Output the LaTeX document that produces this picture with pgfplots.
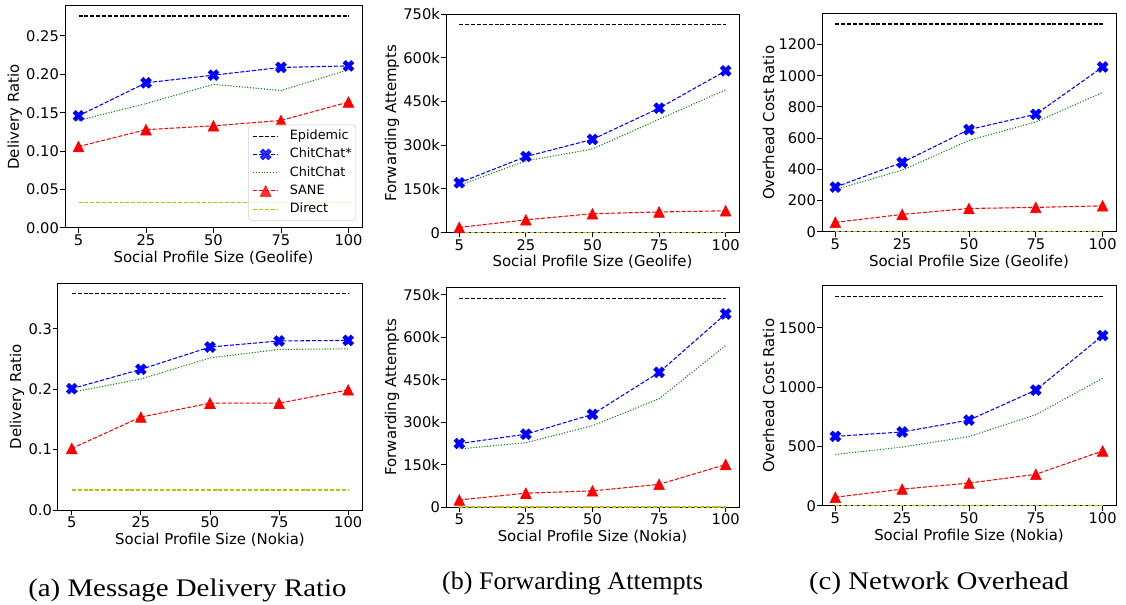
\documentclass[border=0pt]{standalone}
\usepackage{pgfplots}
\pgfplotsset{compat=1.18}
\usepackage{fontspec}
\setmainfont{DejaVu Sans}
\newfontfamily\capfont{Liberation Serif}

\definecolor{mplblue}{rgb}{0,0,1}
\definecolor{mplgreen}{rgb}{0,0.5,0}
\definecolor{mplred}{rgb}{1,0,0}
\definecolor{mplyellow}{rgb}{0.75,0.75,0}

\pgfdeclareplotmark{Xfill}{%
  \pgftransformrotate{45}%
  \pgfpathmoveto{\pgfpoint{-0.3333\pgfplotmarksize}{-\pgfplotmarksize}}%
  \pgfpathlineto{\pgfpoint{0.3333\pgfplotmarksize}{-\pgfplotmarksize}}%
  \pgfpathlineto{\pgfpoint{0.3333\pgfplotmarksize}{-0.3333\pgfplotmarksize}}%
  \pgfpathlineto{\pgfpoint{\pgfplotmarksize}{-0.3333\pgfplotmarksize}}%
  \pgfpathlineto{\pgfpoint{\pgfplotmarksize}{0.3333\pgfplotmarksize}}%
  \pgfpathlineto{\pgfpoint{0.3333\pgfplotmarksize}{0.3333\pgfplotmarksize}}%
  \pgfpathlineto{\pgfpoint{0.3333\pgfplotmarksize}{\pgfplotmarksize}}%
  \pgfpathlineto{\pgfpoint{-0.3333\pgfplotmarksize}{\pgfplotmarksize}}%
  \pgfpathlineto{\pgfpoint{-0.3333\pgfplotmarksize}{0.3333\pgfplotmarksize}}%
  \pgfpathlineto{\pgfpoint{-\pgfplotmarksize}{0.3333\pgfplotmarksize}}%
  \pgfpathlineto{\pgfpoint{-\pgfplotmarksize}{-0.3333\pgfplotmarksize}}%
  \pgfpathlineto{\pgfpoint{-0.3333\pgfplotmarksize}{-0.3333\pgfplotmarksize}}%
  \pgfpathclose
  \pgfusepathqfillstroke
}
\pgfdeclareplotmark{trifill}{%
  \pgfpathmoveto{\pgfpoint{0pt}{\pgfplotmarksize}}%
  \pgfpathlineto{\pgfpoint{-\pgfplotmarksize}{-\pgfplotmarksize}}%
  \pgfpathlineto{\pgfpoint{\pgfplotmarksize}{-\pgfplotmarksize}}%
  \pgfpathclose
  \pgfusepathqfillstroke
}

\pgfplotsset{
  base/.style={
    scale only axis,
    xmin=-0.2, xmax=4.2, ymin=0,
    xtick={0,1,2,3,4}, xticklabels={5,25,50,75,100},
    tick align=outside, tick pos=left,
    major tick length=3.6pt,
    axis line style={line width=0.75pt},
    every tick/.style={black, line width=0.75pt},
    tick label style={font=\fontsize{11}{13}\selectfont},
    yticklabel style={inner sep=0.8pt},
    xticklabel style={inner sep=1.2pt},
    label style={font=\fontsize{11.2}{13}\selectfont},
    ylabel style={inner sep=2.2pt},
    xlabel style={inner sep=2.5pt},
    /pgf/number format/assume math mode=true,
    scaled y ticks=false,
  },
  epi/.style={black, line width=0.8pt, dash pattern=on 3pt off 1.4pt},
  ccs/.style={mplblue, line width=0.8pt, dash pattern=on 3pt off 1.4pt, mark=Xfill, mark size=4.3pt, mark options={solid, fill=mplblue, line width=0.4pt}},
  cc/.style={mplgreen, line width=0.8pt, dash pattern=on 0.8pt off 1.3pt},
  sane/.style={mplred, line width=0.8pt, dash pattern=on 3pt off 1.4pt, mark=trifill, mark size=4pt, mark options={solid, fill=mplred, line width=0.4pt}},
  dir/.style={mplyellow, line width=0.9pt, dash pattern=on 3pt off 1.4pt},
}

\begin{document}
\begin{tikzpicture}
\useasboundingbox (0,0) rectangle (844.5pt,453pt);

% ---------- (a) top: Geolife delivery ratio
\begin{axis}[base, at={(48.75pt,282pt)}, width=222.75pt, height=166.5pt,
  ymax=0.289,
  ytick={0,0.05,0.1,0.15,0.2,0.25},
  yticklabels={0.00,0.05,0.10,0.15,0.20,0.25},
  xlabel={Social Profile Size (Geolife)}, ylabel={Delivery Ratio},
  legend style={at={(0.98,0.033)}, anchor=south east, draw=black!18, rounded corners=2pt,
    fill=white, fill opacity=0.8, text opacity=1, font=\fontsize{9.6}{11}\selectfont,
    cells={anchor=west}, nodes={inner sep=0pt, text height=7.2pt, text depth=2pt},
    row sep=4.5pt, column sep=8.25pt, inner xsep=3pt, inner ysep=3.8pt},
  legend image code/.code={\draw[mark repeat=2, mark phase=2] plot coordinates {(0cm,0cm) (0.33cm,0cm) (0.66cm,0cm)};},
]
\addplot[epi] coordinates {(0,0.276) (1,0.276) (2,0.276) (3,0.276) (4,0.276)};
\addplot[ccs] coordinates {(0,0.146) (1,0.189) (2,0.199) (3,0.209) (4,0.211)};
\addplot[cc] coordinates {(0,0.140) (1,0.162) (2,0.187) (3,0.179) (4,0.206)};
\addplot[sane] coordinates {(0,0.106) (1,0.128) (2,0.133) (3,0.140) (4,0.164)};
\addplot[dir] coordinates {(0,0.033) (1,0.033) (2,0.033) (3,0.033) (4,0.033)};
\legend{Epidemic,ChitChat*,ChitChat,SANE,Direct}
\end{axis}

% ---------- (b) top: Geolife forwarding attempts
\begin{axis}[base, at={(334.5pt,278.5pt)}, width=219.75pt, height=164pt,
  ymax=750000,
  ytick={0,150000,300000,450000,600000,750000},
  yticklabels={0,150k,300k,450k,600k,750k},
  xlabel={Social Profile Size (Geolife)}, ylabel={Forwarding Attempts},
]
\addplot[epi] coordinates {(0,713000) (1,713000) (2,713000) (3,713000) (4,713000)};
\addplot[ccs] coordinates {(0,171000) (1,261000) (2,320000) (3,427000) (4,555000)};
\addplot[cc] coordinates {(0,163000) (1,246000) (2,287000) (3,389000) (4,490000)};
\addplot[sane] coordinates {(0,18000) (1,44000) (2,65000) (3,71000) (4,75000)};
\addplot[dir] coordinates {(0,1000) (1,1000) (2,1000) (3,1000) (4,1000)};
\end{axis}

% ---------- (c) top: Geolife overhead
\begin{axis}[base, at={(616.5pt,279.2pt)}, width=220.5pt, height=163.3pt,
  ymax=1396,
  ytick={0,200,400,600,800,1000,1200},
  yticklabels={0,200,400,600,800,1000,1200},
  xlabel={Social Profile Size (Geolife)}, ylabel={Overhead Cost Ratio},
]
\addplot[epi] coordinates {(0,1332) (1,1332) (2,1332) (3,1332) (4,1332)};
\addplot[ccs] coordinates {(0,286) (1,444) (2,655) (3,753) (4,1056)};
\addplot[cc] coordinates {(0,271) (1,395) (2,585) (3,704) (4,893)};
\addplot[sane] coordinates {(0,60) (1,111) (2,149) (3,156) (4,166)};
\addplot[dir] coordinates {(0,2) (1,2) (2,2) (3,2) (4,2)};
\end{axis}

% ---------- (a) bottom: Nokia delivery ratio
\begin{axis}[base, at={(43.5pt,70.5pt)}, width=228pt, height=170pt,
  ymax=0.3755,
  ytick={0,0.1,0.2,0.3},
  yticklabels={0.0,0.1,0.2,0.3},
  xlabel={Social Profile Size (Nokia)}, ylabel={Delivery Ratio},
]
\addplot[epi] coordinates {(0,0.359) (1,0.359) (2,0.359) (3,0.359) (4,0.359)};
\addplot[ccs] coordinates {(0,0.201) (1,0.233) (2,0.270) (3,0.280) (4,0.281)};
\addplot[cc] coordinates {(0,0.195) (1,0.217) (2,0.252) (3,0.266) (4,0.267)};
\addplot[sane] coordinates {(0,0.102) (1,0.154) (2,0.177) (3,0.177) (4,0.199)};
\addplot[dir] coordinates {(0,0.033) (1,0.033) (2,0.033) (3,0.033) (4,0.033)};
\end{axis}

% ---------- (b) bottom: Nokia forwarding attempts
\begin{axis}[base, at={(334.5pt,72.5pt)}, width=219.75pt, height=165pt,
  ymax=776000,
  ytick={0,150000,300000,450000,600000,750000},
  yticklabels={0,150k,300k,450k,600k,750k},
  xlabel={Social Profile Size (Nokia)}, ylabel={Forwarding Attempts},
]
\addplot[epi] coordinates {(0,738000) (1,738000) (2,738000) (3,738000) (4,738000)};
\addplot[ccs] coordinates {(0,225000) (1,258000) (2,328000) (3,476000) (4,682000)};
\addplot[cc] coordinates {(0,206000) (1,228000) (2,288000) (3,383000) (4,571000)};
\addplot[sane] coordinates {(0,26000) (1,50000) (2,58000) (3,81000) (4,151000)};
\addplot[dir] coordinates {(0,1000) (1,1000) (2,1000) (3,1000) (4,1000)};
\end{axis}

% ---------- (c) bottom: Nokia overhead
\begin{axis}[base, at={(616.5pt,73.7pt)}, width=220.5pt, height=164.8pt,
  ymax=1853,
  ytick={0,500,1000,1500},
  yticklabels={0,500,1000,1500},
  xlabel={Social Profile Size (Nokia)}, ylabel={Overhead Cost Ratio},
]
\addplot[epi] coordinates {(0,1764) (1,1764) (2,1764) (3,1764) (4,1764)};
\addplot[ccs] coordinates {(0,585) (1,622) (2,722) (3,975) (4,1435)};
\addplot[cc] coordinates {(0,432) (1,495) (2,583) (3,768) (4,1075)};
\addplot[sane] coordinates {(0,72) (1,140) (2,191) (3,265) (4,462)};
\addplot[dir] coordinates {(0,3) (1,3) (2,3) (3,3) (4,3)};
\end{axis}

% ---------- captions
\node[anchor=base, font=\capfont\fontsize{19}{23}\selectfont, inner sep=0pt] at (140.6pt,6pt) {\scalebox{1.14}[1]{(a) Message Delivery Ratio}};
\node[anchor=base, font=\capfont\fontsize{19}{23}\selectfont, inner sep=0pt] at (429.5pt,10.9pt) {\scalebox{1.03}[1]{(b) Forwarding Attempts}};
\node[anchor=base, font=\capfont\fontsize{19}{23}\selectfont, inner sep=0pt] at (704.25pt,10.9pt) {\scalebox{1.14}[1]{(c) Network Overhead}};
\end{tikzpicture}
\end{document}
